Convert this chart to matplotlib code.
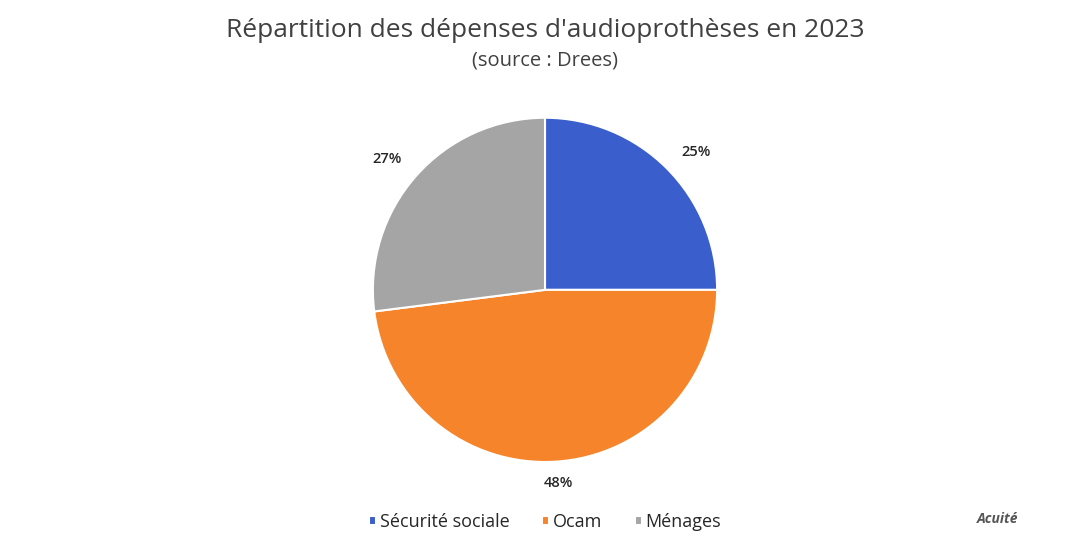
import matplotlib
matplotlib.use("Agg")
import matplotlib.pyplot as plt

categories = ["Sécurité sociale", "Ocam", "Ménages"]
values = [25, 48, 27]
labels = ["25%", "48%", "27%"]
colors = ["#3A5FCD", "#F5842A", "#A5A5A5"]

plt.rcParams['font.family'] = ['Open Sans', 'DejaVu Sans']
fig = plt.figure(figsize=(10.9, 5.49), dpi=100)
fig.patch.set_facecolor("white")
ax = fig.add_axes([0.5 - 0.1725, 0.472 - 0.3135, 0.345, 0.627])
wedges, _ = ax.pie(values, colors=colors, startangle=90, counterclock=False,
                   wedgeprops=dict(edgecolor="white", linewidth=1.5))
ax.set_aspect("equal")
ax.set_xlim(-1, 1); ax.set_ylim(-1, 1)
pos = [(0.88, 0.8), (0.08, -1.12), (-0.92, 0.76)]
for (x, y), l in zip(pos, labels):
    ax.text(x, y, l, ha="center", va="center", fontsize=10.5, color="#262626",
            fontweight="semibold")

fig.text(0.5, 0.945, "Répartition des dépenses d'audioprothèses en 2023",
         ha="center", va="center", fontsize=19, color="#404040")
fig.text(0.5, 0.89, "(source : Drees)", ha="center", va="center",
         fontsize=14.5, color="#404040")
leg = fig.legend(wedges, categories, loc="center", bbox_to_anchor=(0.5, 0.05),
                 ncol=3, frameon=False, fontsize=13, handlelength=0.4,
                 handleheight=0.4, columnspacing=1.8, handletextpad=0.2,
                 labelcolor="#262626")
fig.text(0.915, 0.055, "Acuité", ha="center", va="center", fontsize=10,
         color="#555555", fontweight="bold", style="italic")
fig.savefig("out.png", dpi=100, facecolor="white")
